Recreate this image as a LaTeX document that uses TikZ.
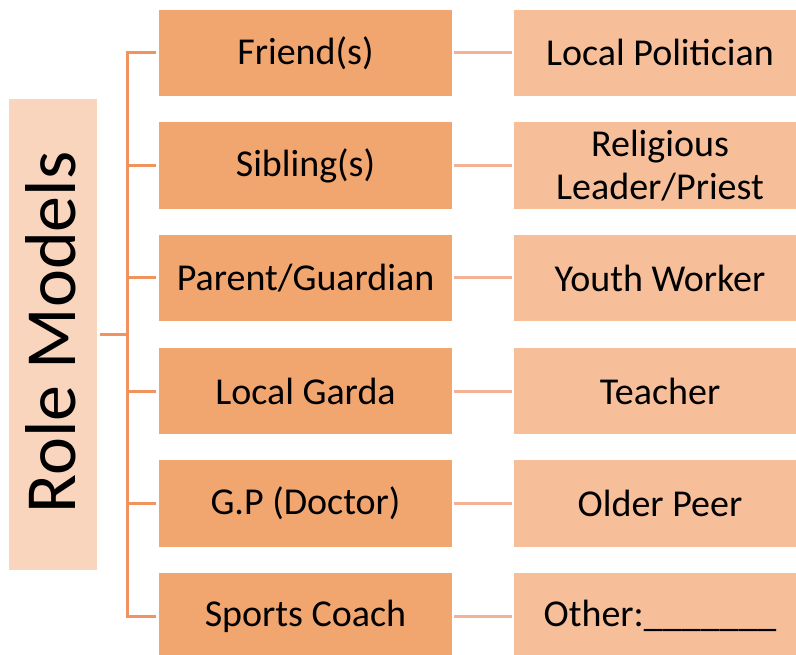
\documentclass[tikz,border=0pt]{standalone}
\usepackage{fontspec}
\setmainfont{Carlito}
\usepackage{xcolor}
\usetikzlibrary{positioning}

\definecolor{leftfill}{HTML}{F1A56F}
\definecolor{rightfill}{HTML}{F6BE99}
\definecolor{rolefill}{HTML}{F9D5BE}
\definecolor{treecol}{HTML}{F0935F}
\definecolor{linkcol}{HTML}{F5B195}

\begin{document}
\begin{tikzpicture}[x=1pt, y=-1pt,
  leftbox/.style={fill=leftfill, minimum width=293pt, minimum height=86.5pt, inner sep=0pt,
    font=\fontsize{38}{43}\selectfont, align=center},
  rightbox/.style={fill=rightfill, minimum width=292pt, minimum height=86.5pt, inner sep=0pt,
    font=\fontsize{38}{43}\selectfont, align=center},
  treeline/.style={treecol, line width=3pt},
  linkline/.style={linkcol, line width=3pt, shorten <=2pt, shorten >=2pt}]

\useasboundingbox (0,0) rectangle (796,655);
\fill[white] (0,0) rectangle (796,655);

\begin{scope}

% role models box
\node[fill=rolefill, minimum width=87.5pt, minimum height=471.5pt, inner sep=0pt] (roles) at (53,334.4) {};
\node[rotate=90, font=\fontsize{72}{80}\selectfont] (rolestext) at (51,332.5) {Role Models};

% left column
\node[leftbox] (friend) at (305.5,52.8) {Friend(s)};
\node[leftbox] (sibling) at (305.5,165.5) {Sibling(s)};
\node[leftbox] (parent) at (305.5,278) {Parent/Guardian};
\node[leftbox] (garda) at (305.5,391) {Local Garda};
\node[leftbox] (gp) at (305.5,503.5) {G.P (Doctor)};
\node[leftbox] (coach) at (305.5,616) {Sports Coach};

% right column
\node[rightbox] (politician) at (660,52.8) {Local Politician};
\node[rightbox] (priest) at (660,165.5) {Religious\\Leader/Priest};
\node[rightbox] (youth) at (660,278) {Youth Worker};
\node[rightbox] (teacher) at (660,391) {Teacher};
\node[rightbox] (peer) at (660,503.5) {Older Peer};
\node[rightbox] (other) at (660,616) {Other:\_\_\_\_\_\_\_};

\end{scope}

% tree
\coordinate (spine) at (127,0);
\draw[treeline] (friend.west) ++(-3,0) -- (friend.west -| spine) -- (coach.west -| spine) -- ([xshift=-3pt]coach.west);
\foreach \n in {sibling,parent,garda,gp}
  \draw[treeline] ([xshift=-3pt]\n.west) -- (\n.west -| spine);
\draw[treeline] ([xshift=3pt]roles.east) -- (roles.east -| spine);

% links
\draw[linkline] (friend) -- (politician);
\draw[linkline] (sibling) -- (priest);
\draw[linkline] (parent) -- (youth);
\draw[linkline] (garda) -- (teacher);
\draw[linkline] (gp) -- (peer);
\draw[linkline] (coach) -- (other);

\end{tikzpicture}
\end{document}
